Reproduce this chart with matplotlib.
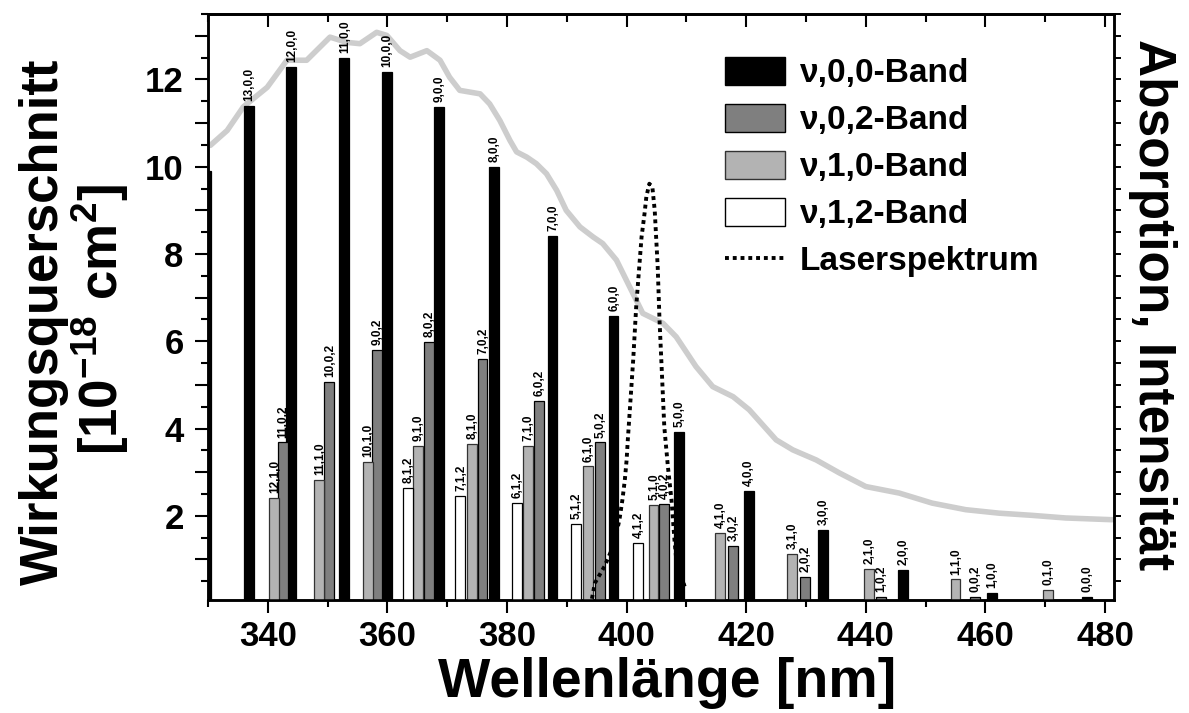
import matplotlib
matplotlib.use("Agg")
import matplotlib.pyplot as plt
from matplotlib.patches import Patch
from matplotlib.lines import Line2D
from matplotlib.ticker import MultipleLocator, FuncFormatter, NullFormatter

plt.rcParams['font.family'] = ['Liberation Sans', 'DejaVu Sans']
plt.rcParams['font.weight'] = 'bold'
plt.rcParams['mathtext.fontset'] = 'custom'
plt.rcParams['mathtext.rm'] = 'Liberation Sans:bold'
plt.rcParams['mathtext.bf'] = 'Liberation Sans:bold'
plt.rcParams['mathtext.it'] = 'Liberation Sans:bold'
plt.rcParams['mathtext.default'] = 'bf'

# ---------------- data ----------------
# v,0,0 band
wl_00 = [329.6, 336.8, 343.9, 352.8, 359.9, 368.6, 377.8, 387.6, 397.8, 408.8, 420.4, 432.8, 446.2, 461.1, 477.0]
cs_00 = [9.9, 11.39, 12.28, 12.49, 12.18, 11.38, 9.99, 8.41, 6.58, 3.92, 2.56, 1.68, 0.75, 0.23, 0.15]
lab_00 = ["", "13,0,0", "12,0,0", "11,0,0", "10,0,0", "9,0,0", "8,0,0", "7,0,0", "6,0,0",
          "5,0,0", "4,0,0", "3,0,0", "2,0,0", "1,0,0", "0,0,0"]
# v,0,2 band
wl_02 = [342.5, 350.3, 358.3, 366.9, 375.9, 385.4, 395.6, 406.2, 417.8, 429.9, 442.5, 458.2]
cs_02 = [3.68, 5.06, 5.81, 5.99, 5.59, 4.63, 3.68, 2.27, 1.30, 0.59, 0.15, 0.15]
lab_02 = ["11,0,2", "10,0,2", "9,0,2", "8,0,2", "7,0,2", "6,0,2", "5,0,2", "4,0,2",
          "3,0,2", "2,0,2", "1,0,2", "0,0,2"]
# v,1,0 band
wl_10 = [341.1, 348.6, 356.7, 365.1, 374.2, 383.5, 393.6, 404.5, 415.6, 427.6, 440.6, 455.0, 470.4]
cs_10 = [2.41, 2.82, 3.24, 3.60, 3.64, 3.61, 3.13, 2.24, 1.60, 1.13, 0.79, 0.54, 0.31]
lab_10 = ["12,1,0", "11,1,0", "10,1,0", "9,1,0", "8,1,0", "7,1,0", "6,1,0", "5,1,0",
          "4,1,0", "3,1,0", "2,1,0", "1,1,0", "0,1,0"]
# v,1,2 band
wl_12 = [363.4, 372.2, 381.7, 391.5, 401.9]
cs_12 = [2.63, 2.46, 2.29, 1.82, 1.38]
lab_12 = ["8,1,2", "7,1,2", "6,1,2", "5,1,2", "4,1,2"]

# absorption curve (right axis)
abs_wl = [330.4, 333.2, 335.9, 338.2, 339.9, 343.2, 346.5, 350.4, 353.2, 355.4, 358.2, 359.9,
          362.1, 363.8, 366.6, 368.8, 370.4, 372.1, 373.8, 375.5, 377.1, 378.8, 380.5, 381.6,
          383.3, 384.9, 386.6, 388.3, 389.9, 392.2, 394.4, 396.0, 398.3, 400.5, 402.7, 406.1,
          408.3, 411.6, 414.4, 417.8, 420.5, 425.0, 427.8, 431.7, 435.6, 440.0, 445.6, 451.1,
          456.7, 462.3, 467.8, 473.4, 481.2]
abs_val = [10.49, 10.83, 11.37, 11.63, 11.82, 12.44, 12.44, 12.97, 12.85, 12.82, 13.08, 13.01,
           12.66, 12.51, 12.66, 12.44, 12.05, 11.75, 11.71, 11.67, 11.44, 11.06, 10.60, 10.34,
           10.22, 10.07, 9.84, 9.46, 9.00, 8.62, 8.39, 8.24, 7.86, 7.25, 6.64, 6.41,
           6.10, 5.42, 4.96, 4.73, 4.43, 3.74, 3.51, 3.28, 2.98, 2.67, 2.52, 2.29,
           2.14, 2.06, 2.01, 1.95, 1.91]

# laser spectrum
laser_wl = [394.2, 394.7, 396.3, 397.5, 398.3, 398.8, 399.3, 399.7, 400.0, 400.2, 400.5, 401.1,
            401.6, 402.2, 402.5, 403.0, 403.3, 403.8, 404.3, 404.7, 405.2, 405.5, 405.9, 406.3,
            406.9, 407.5, 408.0, 408.3, 409.7]
laser_val = [0.10, 0.46, 0.84, 1.22, 1.60, 1.91, 2.37, 2.82, 3.28, 3.74, 4.35, 5.57,
             6.79, 7.86, 8.39, 8.93, 9.31, 9.61, 9.54, 9.00, 7.70, 6.49, 5.27, 4.04,
             3.13, 2.37, 1.45, 1.00, 0.38]

legend_labels = ["\u03bd,0,0-Band", "\u03bd,0,2-Band", "\u03bd,1,0-Band", "\u03bd,1,2-Band", "Laserspektrum"]
yticks_labelled = [2, 4, 6, 8, 10, 12]

# ---------------- figure ----------------
W, H = 1189, 713
fig = plt.figure(figsize=(W / 100, H / 100), dpi=100)
ax = fig.add_axes([208 / W, 1 - 600 / H, (1114 - 208) / W, (600 - 14) / H])
ax2 = ax.twinx()
ax.set_zorder(ax2.get_zorder() + 1)
ax.patch.set_visible(False)

XLIM = (330, 481.5)
YLIM = (0.07, 13.5)

ax2.plot(abs_wl, abs_val, color='#cdcdcd', lw=4.0, solid_capstyle='round', solid_joinstyle='round')
ax2.set_ylim(*YLIM)
ax2.yaxis.set_major_locator(MultipleLocator(0.5))
ax2.yaxis.set_major_formatter(NullFormatter())
ax2.tick_params(axis='y', direction='out', length=5, width=1.4)

bw = 1.65
series = [
    (wl_00, cs_00, lab_00, 'black', 'black'),
    (wl_02, cs_02, lab_02, '#7f7f7f', 'black'),
    (wl_10, cs_10, lab_10, '#b3b3b3', '#333333'),
    (wl_12, cs_12, lab_12, 'white', 'black'),
]
for wl, cs, lab, fc, ec in series:
    ax.bar(wl, cs, width=bw, color=fc, edgecolor=ec, linewidth=0.9, zorder=2)
    for x, v, t in zip(wl, cs, lab):
        if t:
            ax.annotate(t, (x, v), xytext=(0.5, 3.5), textcoords='offset points',
                        rotation=90, ha='center', va='bottom', fontsize=8.5,
                        fontweight='bold', zorder=4)

ax.plot(laser_wl, laser_val, color='black', lw=2.8, linestyle=(0, (1, 1)), zorder=3)

ax.set_xlim(*XLIM)
ax.set_ylim(*YLIM)
ax.xaxis.set_major_locator(MultipleLocator(20))
ax.xaxis.set_minor_locator(MultipleLocator(10))
ax.yaxis.set_major_locator(MultipleLocator(1))
ax.yaxis.set_minor_locator(MultipleLocator(0.5))
ax.yaxis.set_major_formatter(FuncFormatter(
    lambda v, p: f"{int(round(v))}" if int(round(v)) in yticks_labelled else ""))

ax.tick_params(axis='x', which='both', direction='out', top=False, labelsize=25, pad=5, width=1.5)
ax.tick_params(axis='x', which='major', length=9.5)
ax.tick_params(axis='x', which='minor', length=5)
ax.tick_params(axis='y', which='both', direction='out', right=False, labelsize=25, pad=8, width=1.5)
ax.tick_params(axis='y', which='major', length=9.5)
ax.tick_params(axis='y', which='minor', length=5)

secx = ax.secondary_xaxis('top')
secx.xaxis.set_major_locator(MultipleLocator(20))
secx.xaxis.set_minor_locator(MultipleLocator(10))
secx.xaxis.set_major_formatter(NullFormatter())
secx.tick_params(axis='x', which='both', direction='in', width=1.5)
secx.tick_params(axis='x', which='major', length=9.5)
secx.tick_params(axis='x', which='minor', length=5.5)

for a in (ax, ax2):
    for s in a.spines.values():
        s.set_linewidth(1.8)
for s in secx.spines.values():
    s.set_linewidth(1.8)

for lab in ax.get_xticklabels() + ax.get_yticklabels():
    lab.set_fontweight('bold')

# axis titles
fig.text(44 / W, 1 - 322 / H, "Wirkungsquerschnitt", rotation=90, ha='center', va='center',
         fontsize=38, fontweight='bold')
fig.text(100 / W, 1 - 320 / H, "[10$^{-18}$ cm$^{2}$]", rotation=90, ha='center', va='center',
         fontsize=38, fontweight='bold')
fig.text(1152 / W, 1 - 305 / H, "Absorption, Intensit\u00e4t", rotation=270, ha='center',
         va='center', fontsize=37, fontweight='bold')
fig.text(667 / W, 1 - 683 / H, "Wellenl\u00e4nge [nm]", ha='center', va='center',
         fontsize=40, fontweight='bold')

handles = [Patch(fc='black', ec='black'),
           Patch(fc='#7f7f7f', ec='black'),
           Patch(fc='#b3b3b3', ec='#333333'),
           Patch(fc='white', ec='black'),
           Line2D([], [], color='black', lw=2.8, linestyle=(0, (1, 1)))]
leg = ax.legend(handles, legend_labels, loc='upper left',
                bbox_to_anchor=(725 / W, 1 - 57 / H), bbox_transform=fig.transFigure,
                frameon=False, prop={'weight': 'bold', 'size': 24},
                handlelength=1.8, handleheight=0.9, handletextpad=0.45,
                labelspacing=0.44, borderpad=0, borderaxespad=0)

fig.savefig("out.png", dpi=100)
